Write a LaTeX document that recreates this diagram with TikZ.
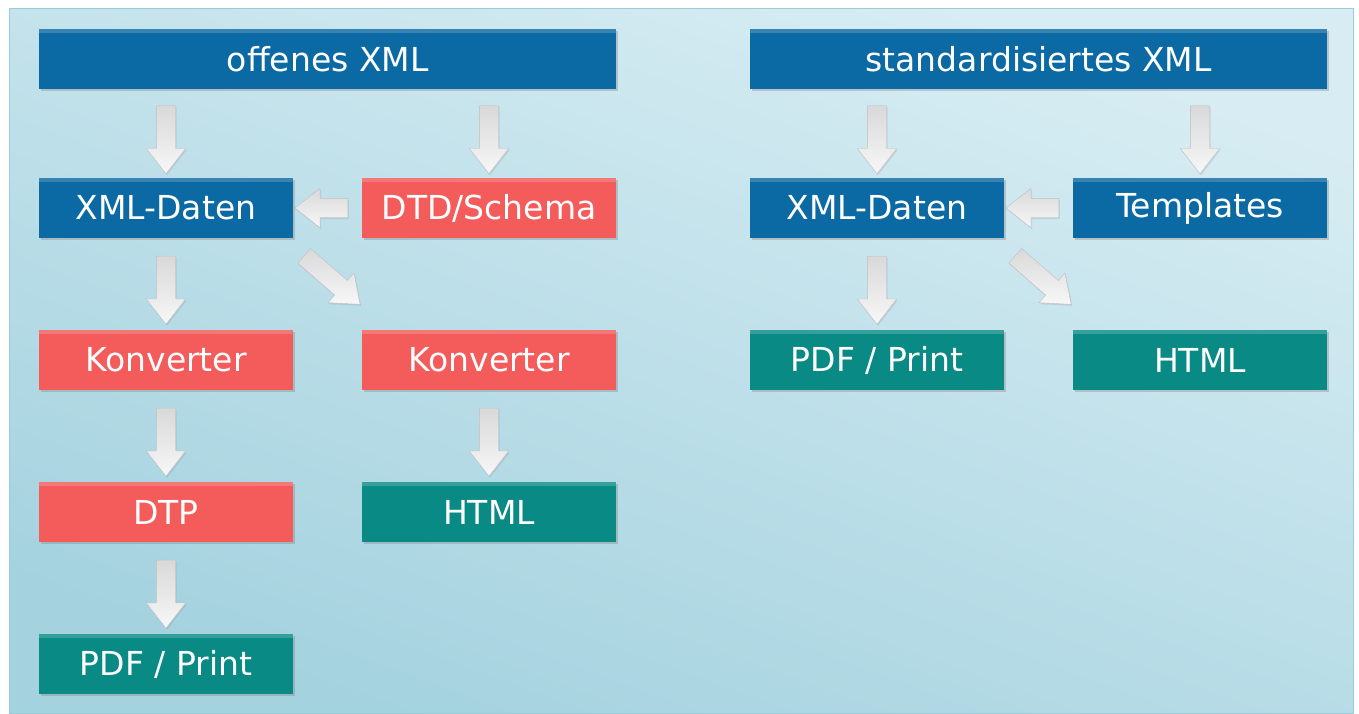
\documentclass[tikz,border=0pt]{standalone}
\usepackage{fontspec}
\setmainfont{DejaVu Sans}
\usepackage{tikz}
\usetikzlibrary{shapes.arrows,shadows,positioning}
\usepackage{xcolor}
\definecolor{xblue}{HTML}{0B69A3}
\definecolor{xred}{HTML}{F45B5B}
\definecolor{xteal}{HTML}{098A85}
\definecolor{bgtop}{HTML}{D8EDF3}
\definecolor{bgbot}{HTML}{A4D2DF}
\definecolor{bgedge}{HTML}{9CCBD8}

\begin{document}
\begin{tikzpicture}[x=1pt,y=1pt]
\tikzstyle{block} = [rectangle, fill=xblue, text=white, font=\fontsize{33}{40}\selectfont,
minimum width=254pt, minimum height=60pt, inner sep=0pt,
drop shadow={shadow xshift=1.5pt, shadow yshift=-2pt, opacity=0.35},
path picture={\fill[white, opacity=0.18] (path picture bounding box.north west)
  rectangle ([yshift=-4pt]path picture bounding box.north east);}]
\tikzstyle{block_red} = [block, fill=xred]
\tikzstyle{block_out} = [block, fill=xteal]
\tikzstyle{block_head} = [block, minimum width=577pt]
\tikzstyle{bigarrow} = [single arrow, draw=gray!50, top color=gray!30, bottom color=gray!6,
minimum height=68pt, inner xsep=0pt, inner ysep=9.5pt, single arrow head extend=10pt,
single arrow tip angle=76, sloped, allow upside down,
drop shadow={shadow xshift=1pt, shadow yshift=-1.5pt, opacity=0.2}]

\useasboundingbox (0,0) rectangle (1359,-713);
\draw[bgedge, top color=bgtop, bottom color=bgbot, shading angle=-20] (9,-8) rectangle (1353,-713);

% offenes XML
\matrix [anchor=north west, inner sep=0pt, outer sep=0pt, column sep=69pt, row sep=92pt] at (39,-178)
{
 \node [block] (daten1) {XML-Daten}; & \node [block_red] (dtd) {DTD/Schema};\\
 \node [block_red] (konv1) {Konverter}; & \node [block_red] (konv2) {Konverter};\\
 \node [block_red] (dtp) {DTP}; & \node [block_out] (html1) {HTML};\\
 \node [block_out] (pdf1) {PDF / Print}; & \\
};
\node [block_head, above right=89pt and 0pt of daten1.north west] (offen) {offenes XML};

% standardisiertes XML
\matrix [anchor=north west, inner sep=0pt, outer sep=0pt, column sep=69pt, row sep=92pt] at (750,-178)
{
 \node [block] (daten2) {XML-Daten}; & \node [block] (tmpl) {Templates};\\
 \node [block_out] (pdf2) {PDF / Print}; & \node [block_out] (html2) {HTML};\\
};
\node [block_head, above right=89pt and 0pt of daten2.north west] (std) {standardisiertes XML};

\path (offen.south -| daten1.north) -- node [bigarrow] {} (daten1.north);
\path (offen.south -| dtd.north) -- node [bigarrow] {} (dtd.north);
\path (dtd.west) -- node [bigarrow, minimum height=53pt] {} (daten1.east);
\path (daten1.south) -- node [bigarrow] {} (konv1.north);
\path ([yshift=-8pt]daten1.south east) -- node [bigarrow, minimum height=74pt] {} ([yshift=24pt]konv2.north west);
\path (konv1.south) -- node [bigarrow] {} (dtp.north);
\path (dtp.south) -- node [bigarrow] {} (pdf1.north);
\path (konv2.south) -- node [bigarrow] {} (html1.north);

\path (std.south -| daten2.north) -- node [bigarrow] {} (daten2.north);
\path (std.south -| tmpl.north) -- node [bigarrow] {} (tmpl.north);
\path (tmpl.west) -- node [bigarrow, minimum height=53pt] {} (daten2.east);
\path (daten2.south) -- node [bigarrow] {} (pdf2.north);
\path ([yshift=-8pt]daten2.south east) -- node [bigarrow, minimum height=74pt] {} ([yshift=24pt]html2.north west);
\end{tikzpicture}
\end{document}
